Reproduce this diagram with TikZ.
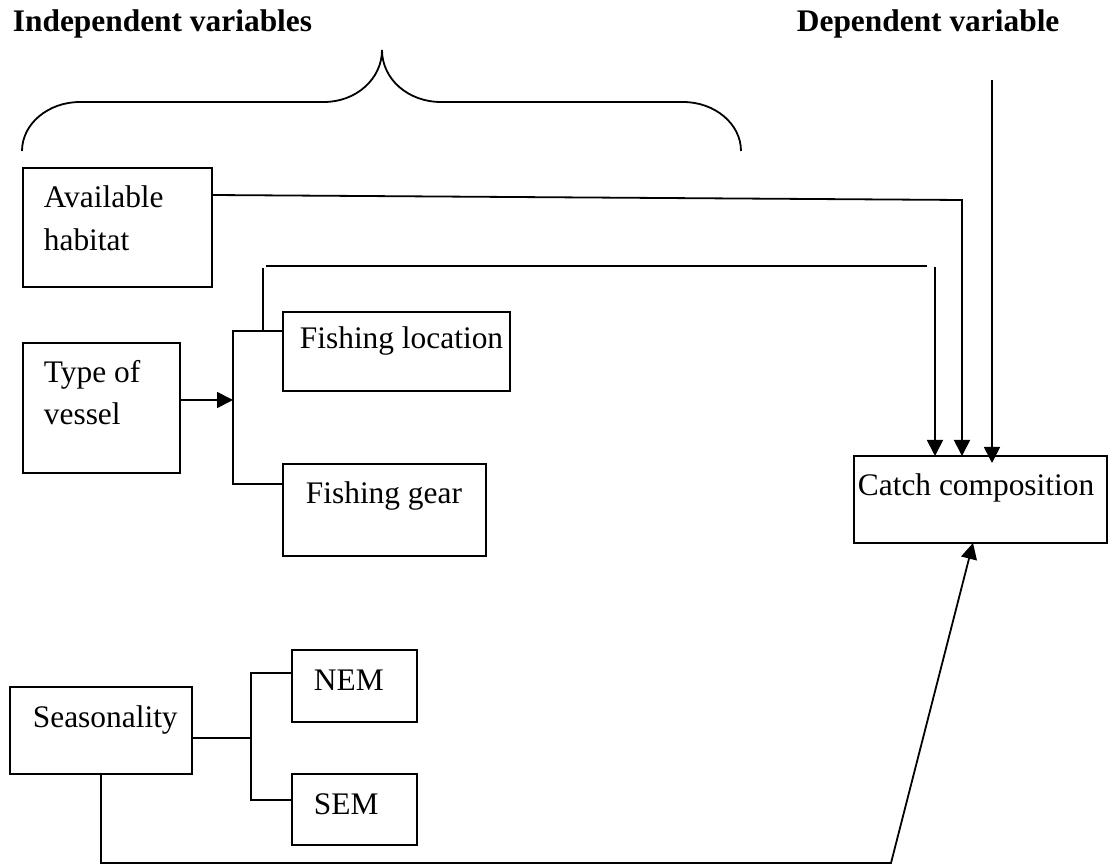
\documentclass[tikz,border=0pt]{standalone}
\usepackage{fontspec}
\setmainfont{Liberation Serif}
\usetikzlibrary{arrows.meta}
\begin{document}
\begin{tikzpicture}[x=0.5pt,y=-0.5pt, line width=0.9pt,
  box/.style={draw, rectangle, anchor=north west, inner sep=0pt, outer sep=0pt},
  lbl/.style={anchor=base west, inner sep=0pt, font=\fontsize{15.7}{18}\selectfont},
  hdr/.style={anchor=base west, inner sep=0pt, font=\fontsize{15.7}{18}\selectfont\bfseries},
  arr/.style={-{Triangle[length=8pt,width=8pt]}}
  ]
\useasboundingbox (0,0) rectangle (1110,866);

% headings
\node[hdr] (ind) at (12,32) {Independent variables};
\node[hdr] (dep) at (796,32) {Dependent variable};

% brace
\draw (22,151) .. controls (22,124) and (48,102) .. (80,102) -- (324,102)
  .. controls (356,102) and (382,79) .. (382,50)
  .. controls (382,79) and (408,102) .. (441,102) -- (683,102)
  .. controls (715,102) and (741,124) .. (741,151);

% boxes
\node[box, minimum width=94.5pt, minimum height=59.5pt] (ah) at (23,168) {};
\node[box, minimum width=78.5pt, minimum height=65pt] (tv) at (23,343) {};
\node[box, minimum width=113.5pt, minimum height=39.5pt] (fl) at (283,312) {};
\node[box, minimum width=101.5pt, minimum height=46pt] (fg) at (283,464) {};
\node[box, minimum width=126.5pt, minimum height=43.5pt] (cc) at (854,456) {};
\node[box, minimum width=91pt, minimum height=43.5pt] (se) at (10,687) {};
\node[box, minimum width=62.5pt, minimum height=36pt] (nem) at (292,650) {};
\node[box, minimum width=62.5pt, minimum height=35.5pt] (sem) at (292,774) {};

% texts
\node[lbl] (tah1) at (43,208) {Available};
\node[lbl] (tah2) at (43,251) {habitat};
\node[lbl] (ttv1) at (43,383) {Type of};
\node[lbl] (ttv2) at (43,425) {vessel};
\node[lbl] (tfl) at (299,349) {Fishing location};
\node[lbl] (tfg) at (305,504) {Fishing gear};
\node[lbl] (tcc) at (857,495) {Catch composition};
\node[lbl] (tse) at (32,727) {Seasonality};
\node[lbl] (tnem) at (313,690) {NEM};
\node[lbl] (tsem) at (313,814) {SEM};

% helper coordinates
\coordinate (ahy) at (0,195);
\coordinate (c1) at (962,200);
\coordinate (tva) at (233,400);
\coordinate (fj) at (233,331);
\coordinate (gj) at (233,484);
\coordinate (up0) at (263,331);
\coordinate (up1) at (263,268);
\coordinate (h0) at (266,266);
\coordinate (h1) at (927,266);
\coordinate (v0) at (935,267);
\coordinate (dtop) at (992,80);
\coordinate (dend) at (992,463);
\coordinate (sj) at (251,738);
\coordinate (nj) at (251,673);
\coordinate (sj2) at (251,800);
\coordinate (b1) at (891,863);
\coordinate (b2) at (973,543);

% connectors
\draw[arr] (ah.east |- ahy) -- (c1) -- (c1 |- cc.north);
\draw (up0) -- (up1);
\draw (h0) -- (h1);
\draw[arr] (v0) -- (v0 |- cc.north);
\draw[arr] (dtop) -- (dend);
\draw[arr] (tv.east |- tva) -- (tva);
\draw (fl.west |- fj) -- (fj) -- (gj) -- (fg.west |- gj);
\draw (se.east |- sj) -- (sj);
\draw (nem.west |- nj) -- (nj) -- (sj2) -- (sem.west |- sj2);
\draw[arr] (se.south) -- (se.south |- b1) -- (b1) -- (b2);
\end{tikzpicture}
\end{document}
